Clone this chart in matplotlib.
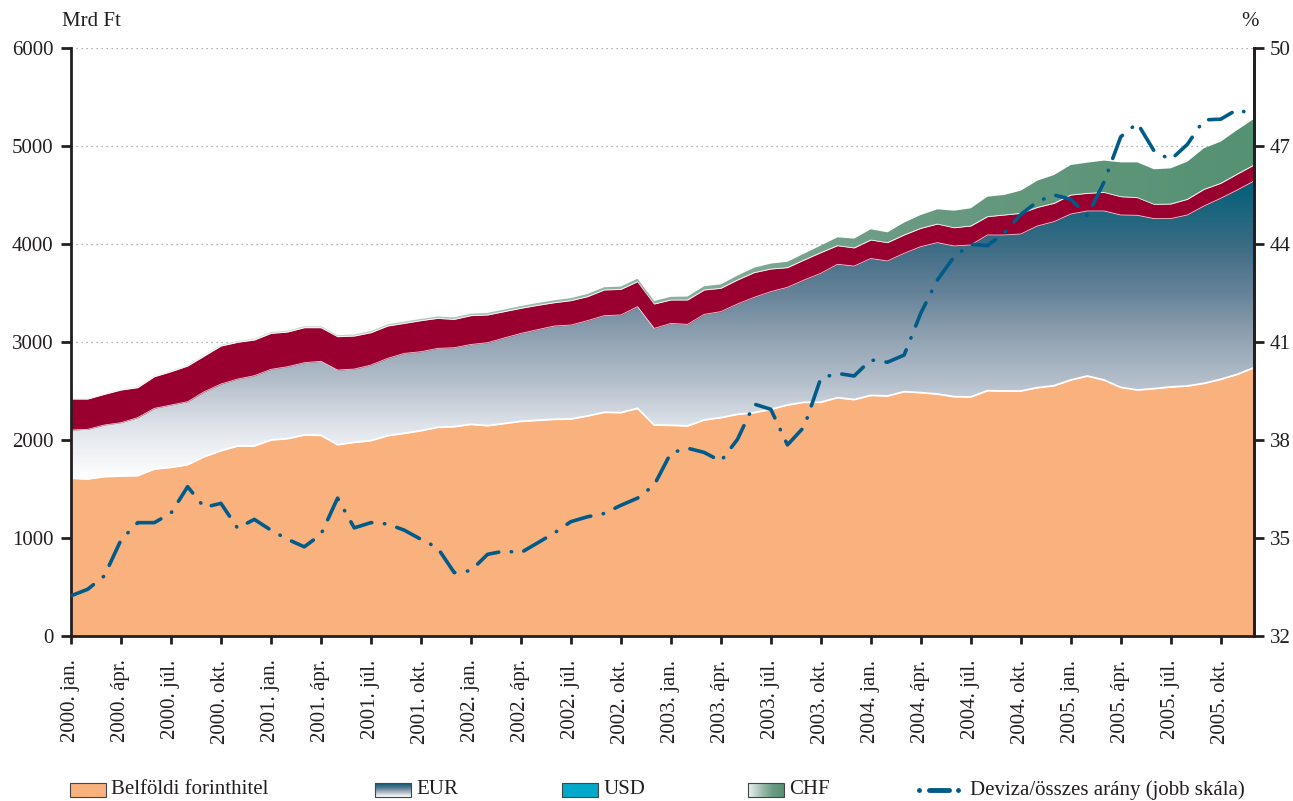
import numpy as np
import matplotlib
matplotlib.use("Agg")
import matplotlib.pyplot as plt
from matplotlib.colors import LinearSegmentedColormap
from matplotlib.patches import Rectangle, Polygon

plt.rcParams['font.family'] = ['Liberation Serif', 'DejaVu Serif']

# ---------------- data ----------------
years = [2000, 2001, 2002, 2003, 2004, 2005]
tick_months = ['jan.', 'ápr.', 'júl.', 'okt.']
tick_labels = [f"{y}. {m}" for y in years for m in tick_months]

# Mrd Ft, monthly 2000 jan .. 2005 dec
forint = [1610, 1602, 1626, 1633, 1636, 1704, 1721, 1748, 1830, 1891, 1939, 1939,
          2000, 2014, 2051, 2048, 1952, 1976, 1993, 2044, 2068, 2095, 2129, 2136,
          2160, 2146, 2168, 2190, 2201, 2211, 2214, 2245, 2282, 2279, 2323, 2153,
          2150, 2143, 2204, 2228, 2262, 2279, 2313, 2357, 2385, 2385, 2432, 2412,
          2455, 2449, 2493, 2483, 2469, 2442, 2439, 2503, 2500, 2500, 2534, 2554,
          2612, 2653, 2612, 2537, 2510, 2524, 2541, 2551, 2578, 2619, 2670, 2738]
eur = [492, 507, 527, 544, 592, 619, 636, 643, 663, 680, 683, 717,
       721, 734, 738, 755, 762, 748, 772, 789, 816, 806, 806, 806,
       815, 847, 873, 898, 925, 952, 959, 973, 987, 997, 1038, 986,
       1040, 1037, 1078, 1082, 1126, 1177, 1201, 1201, 1248, 1316, 1361, 1363,
       1397, 1378, 1412, 1490, 1545, 1538, 1551, 1589, 1592, 1602, 1650, 1674,
       1694, 1684, 1725, 1759, 1783, 1735, 1718, 1745, 1810, 1847, 1881, 1905]
usd = [316, 309, 313, 333, 306, 323, 340, 364, 364, 388, 375, 364,
       367, 354, 357, 343, 340, 337, 330, 330, 306, 317, 306, 289,
       294, 283, 269, 256, 248, 238, 249, 245, 262, 261, 255, 249,
       239, 249, 249, 238, 245, 252, 231, 201, 204, 211, 190, 185,
       189, 187, 187, 187, 190, 186, 194, 187, 204, 211, 190, 187,
       194, 180, 190, 187, 180, 146, 149, 160, 170, 153, 163, 163]
chf = [8, 8, 9, 9, 10, 10, 11, 11, 12, 12, 13, 13,
       14, 14, 15, 15, 16, 16, 17, 17, 18, 18, 19, 20,
       20, 21, 22, 23, 24, 25, 26, 27, 28, 29, 30, 30,
       32, 35, 38, 40, 45, 50, 55, 60, 65, 72, 85, 95,
       109, 105, 126, 136, 150, 174, 180, 204, 204, 231, 272, 289,
       306, 313, 324, 350, 360, 357, 364, 384, 419, 425, 449, 470]
# %, right scale
ratio = [33.23, 33.43, 33.84, 34.94, 35.47, 35.47, 35.76, 36.57, 35.94, 36.06, 35.30, 35.57,
         35.24, 34.96, 34.73, 35.11, 36.22, 35.31, 35.47, 35.43, 35.24, 34.96, 34.70, 33.94,
         34.00, 34.50, 34.60, 34.55, 34.85, 35.15, 35.50, 35.65, 35.75, 36.00, 36.22, 36.62,
         37.60, 37.75, 37.62, 37.35, 38.02, 39.10, 38.94, 37.85, 38.40, 39.89, 40.04, 39.96,
         40.45, 40.38, 40.60, 41.88, 42.90, 43.61, 43.99, 43.95, 44.33, 44.90, 45.30, 45.50,
         45.37, 44.86, 45.90, 47.28, 47.70, 46.85, 46.58, 47.05, 47.80, 47.82, 48.12, 47.95]

series_names = ['Belföldi forinthitel', 'EUR', 'USD', 'CHF',
                'Deviza/összes arány (jobb skála)']

# ---------------- styles ----------------
C_FORINT = '#F9B27E'
C_USD = '#99002F'
C_USD_LEG = '#00A9C9'
C_LINE = '#005B89'
C_AX = '#231F20'
FS = 15

eur_cmap = LinearSegmentedColormap.from_list('eur', [
    (0.0, '#FFFFFF'), (1600 / 6000, '#FFFFFF'), (2100 / 6000, '#E2E6EC'),
    (2600 / 6000, '#B3BECA'), (3000 / 6000, '#94A5B4'), (3500 / 6000, '#668298'),
    (4000 / 6000, '#3A6B84'), (4650 / 6000, '#005F78'), (1.0, '#005A73')])
chf_cmap = LinearSegmentedColormap.from_list('chf', [
    (0.0, '#EBF0EE'), (0.42, '#96B9AA'), (0.7, '#6A9B82'), (1.0, '#559173')])

x = np.arange(len(forint))
c0 = np.array(forint, float)
c1 = c0 + np.array(eur)
c2 = c1 + np.array(usd)
c3 = c2 + np.array(chf)

fig = plt.figure(figsize=(12.93, 8.01), dpi=100)
W, H = 1293, 801
ax = fig.add_axes([71 / W, (H - 636) / H, (1254 - 71) / W, (636 - 48) / H])

# forint
ax.fill_between(x, 0, c0, color=C_FORINT, lw=0, zorder=1)

# EUR gradient (vertical)
grad_v = np.linspace(0, 6000, 700).reshape(-1, 1)
im = ax.imshow(grad_v, extent=[x[0], x[-1], 0, 6000], origin='lower', aspect='auto',
               cmap=eur_cmap, vmin=0, vmax=6000, zorder=1.1, interpolation='bilinear')
pe = Polygon(np.column_stack([np.r_[x, x[::-1]], np.r_[c1, c0[::-1]]]), closed=True,
             facecolor='none', edgecolor='none', transform=ax.transData)
ax.add_patch(pe)
im.set_clip_path(pe)

# USD
ax.fill_between(x, c1, c2, color=C_USD, lw=0, zorder=1.2)

# CHF gradient (horizontal)
grad_h = np.linspace(0, 1, 500).reshape(1, -1)
im2 = ax.imshow(grad_h, extent=[x[0], x[-1], 0, 6000], origin='lower', aspect='auto',
                cmap=chf_cmap, vmin=0, vmax=1, zorder=1.3, interpolation='bilinear')
pc = Polygon(np.column_stack([np.r_[x, x[::-1]], np.r_[c3, c2[::-1]]]), closed=True,
             facecolor='none', edgecolor='none', transform=ax.transData)
ax.add_patch(pc)
im2.set_clip_path(pc)

# white separators
ax.plot(x, c0, color='white', lw=1.3, zorder=1.5)
ax.plot(x, c1, color='white', lw=0.6, alpha=0.8, zorder=1.5)
ax.plot(x, c2, color='white', lw=0.6, alpha=0.7, zorder=1.5)

ax.set_xlim(x[0], x[-1])
ax.set_ylim(0, 6000)
ax.set_yticks(range(0, 6001, 1000))
ax.set_xticks(range(0, len(x), 3))
ax.set_xticklabels(tick_labels, rotation=90, fontsize=FS, color=C_AX)
ax.tick_params(axis='y', labelsize=FS, labelcolor=C_AX, direction='out',
               length=7, width=2, color=C_AX, pad=5.5)
ax.tick_params(axis='x', direction='out', length=6, width=2, color=C_AX, pad=11)
ax.yaxis.grid(True, linestyle=(0, (1, 3)), color='#9A9A9A', lw=0.9)
ax.set_axisbelow(True)
ax.spines['top'].set_visible(False)
for s in ['left', 'bottom', 'right']:
    ax.spines[s].set_linewidth(2)
    ax.spines[s].set_color(C_AX)
ax.spines['left'].set_zorder(3)

# right axis: ratio
ax2 = ax.twinx()
ax2.set_ylim(32, 50)
ax2.set_yticks(range(32, 51, 3))
ax2.plot(x, ratio, color=C_LINE, lw=2.6, linestyle=(0, (7, 3.5, 0.1, 3.5)),
         dash_capstyle='round', solid_capstyle='round', zorder=5)
ax2.tick_params(axis='y', labelsize=FS, labelcolor=C_AX, direction='out',
                length=7, width=2, color=C_AX, pad=4.5)
ax2.spines['top'].set_visible(False)
ax2.spines['left'].set_visible(False)
ax2.spines['bottom'].set_visible(False)
ax2.spines['right'].set_linewidth(2)
ax2.spines['right'].set_color(C_AX)

fig.text(62 / W, 1 - 22 / H, 'Mrd Ft', fontsize=FS, color=C_AX, va='center', ha='left')
fig.text(1250 / W, 1 - 22 / H, '%', fontsize=FS, color=C_AX, va='center', ha='center')

# ---------------- legend ----------------
lax = fig.add_axes([0, 0, 1, 31 / H])
lax.set_xlim(0, W)
lax.set_ylim(31, 0)  # y measured downward from pixel row 770
lax.axis('off')
yc = 20
ph = 14
items_x = [70, 375, 562, 748]
for i, px in enumerate(items_x):
    pw = 36
    if i == 0:
        lax.add_patch(Rectangle((px, yc - ph / 2), pw, ph, facecolor=C_FORINT,
                                edgecolor='#444444', lw=0.8))
    elif i == 1:
        g = np.linspace(4650, 1700, 40).reshape(-1, 1)
        lax.imshow(g, extent=[px, px + pw, yc + ph / 2, yc - ph / 2], origin='upper',
                   aspect='auto', cmap=eur_cmap, vmin=0, vmax=6000)
        lax.add_patch(Rectangle((px, yc - ph / 2), pw, ph, facecolor='none',
                                edgecolor='#444444', lw=0.8))
    elif i == 2:
        lax.add_patch(Rectangle((px, yc - ph / 2), pw, ph, facecolor=C_USD_LEG,
                                edgecolor='#444444', lw=0.8))
    else:
        g = np.linspace(0, 1, 40).reshape(1, -1)
        lax.imshow(g, extent=[px, px + pw, yc + ph / 2, yc - ph / 2], origin='upper',
                   aspect='auto', cmap=chf_cmap, vmin=0, vmax=1)
        lax.add_patch(Rectangle((px, yc - ph / 2), pw, ph, facecolor='none',
                                edgecolor='#444444', lw=0.8))
    lax.text(px + pw + 5, yc, series_names[i], fontsize=FS, color=C_AX,
             va='center', ha='left')
lax.set_xlim(0, W)
lax.set_ylim(31, 0)
lax.plot([929, 949], [yc, yc], color=C_LINE, lw=3.5, solid_capstyle='round')
lax.plot([919, 958], [yc, yc], 'o', color=C_LINE, ms=3.5, mec='none')
lax.text(970, yc, series_names[4], fontsize=FS, color=C_AX, va='center', ha='left')

fig.savefig('out.png', dpi=100)
